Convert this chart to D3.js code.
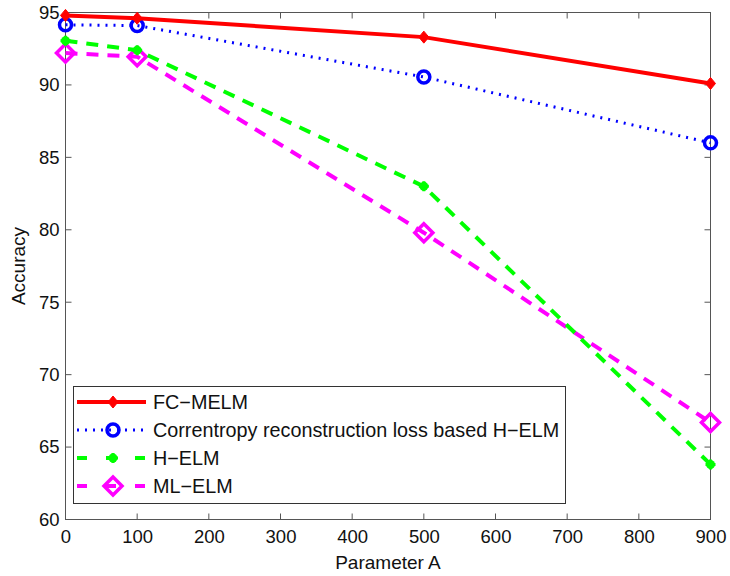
<!DOCTYPE html>
<html><head><meta charset="utf-8">
<script src="https://cdn.jsdelivr.net/npm/d3@7"></script>
<style>body{margin:0;background:#fff}svg{display:block}text{font-family:"Liberation Sans",Arial,sans-serif}</style>
</head><body><svg id="c" width="730" height="576"></svg>
<script>
const xValues = [0, 100, 500, 900];
const seriesNames = ["FC\u2212MELM", "Correntropy reconstruction loss based H\u2212ELM", "H\u2212ELM", "ML\u2212ELM"];
const fcmelm = [94.8, 94.6, 93.3, 90.1];
const correntropy = [94.15, 94.1, 90.55, 86.0];
const helm = [93.05, 92.4, 83.0, 63.8];
const mlelm = [92.2, 91.95, 79.8, 66.7];
const xTicks = [0,100,200,300,400,500,600,700,800,900];
const yTicks = [60,65,70,75,80,85,90,95];

const svg = d3.select("#c");
const L=65.5, R=710.5, T=12.5, B=519.5;
const x = d3.scaleLinear().domain([0,900]).range([L,R]);
const y = d3.scaleLinear().domain([60,95]).range([B,T]);

const styles = [
  {data: fcmelm, color:"#ff0000", dash:null, width:4, marker:"fcdiamond"},
  {data: correntropy, color:"#0000ff", dash:"2,6", width:3, marker:"circle"},
  {data: helm, color:"#00ff00", dash:"12,9", width:4, marker:"star"},
  {data: mlelm, color:"#ff00ff", dash:"12,9", width:4, marker:"diamond"}
];

svg.append("rect").attr("x",L).attr("y",T).attr("width",R-L).attr("height",B-T).attr("fill","none").attr("stroke","#555").attr("stroke-width",1);

const xAxis = d3.axisBottom(x).tickValues(xTicks).tickSize(0).tickPadding(10);
const gx = svg.append("g").attr("transform",`translate(0,${B})`).call(xAxis);
gx.select(".domain").remove();
gx.selectAll("text").attr("font-size",18.5).attr("fill","#111").attr("font-family","Liberation Sans, Arial, sans-serif").attr("dy","0.71em");
const yAxis = d3.axisLeft(y).tickValues(yTicks).tickSize(0).tickPadding(6);
const gy = svg.append("g").attr("transform",`translate(${L},0)`).call(yAxis);
gy.select(".domain").remove();
gy.selectAll("text").attr("font-size",18.5).attr("fill","#111").attr("font-family","Liberation Sans, Arial, sans-serif");

xTicks.forEach(t=>{
  svg.append("line").attr("x1",x(t)).attr("x2",x(t)).attr("y1",B).attr("y2",B-6).attr("stroke","#555");
  svg.append("line").attr("x1",x(t)).attr("x2",x(t)).attr("y1",T).attr("y2",T+6).attr("stroke","#555");
});
yTicks.forEach(t=>{
  svg.append("line").attr("x1",L).attr("x2",L+6).attr("y1",y(t)).attr("y2",y(t)).attr("stroke","#555");
  svg.append("line").attr("x1",R).attr("x2",R-6).attr("y1",y(t)).attr("y2",y(t)).attr("stroke","#555");
});

svg.append("text").attr("x",(L+R)/2).attr("y",569).attr("text-anchor","middle").attr("font-size",19).attr("fill","#111").text("Parameter A");
svg.append("text").attr("transform",`translate(25,${(T+B)/2}) rotate(-90)`).attr("text-anchor","middle").attr("font-size",19).attr("fill","#111").text("Accuracy");

function drawMarker(g, type, cx, cy, color){
  if(type==="fcdiamond"){
    g.append("path").attr("d",`M${cx},${cy-6}L${cx+5},${cy}L${cx},${cy+6}L${cx-5},${cy}Z`).attr("fill",color).attr("stroke",color).attr("stroke-width",1);
  } else if(type==="circle"){
    g.append("circle").attr("cx",cx).attr("cy",cy).attr("r",6).attr("fill","none").attr("stroke",color).attr("stroke-width",3.5);
  } else if(type==="star"){
    g.append("circle").attr("cx",cx).attr("cy",cy).attr("r",4.5).attr("fill",color);
    g.append("path").attr("d",`M${cx-5},${cy}H${cx+5}M${cx},${cy-5}V${cy+5}`).attr("stroke",color).attr("stroke-width",3);
  } else if(type==="diamond"){
    g.append("path").attr("d",`M${cx},${cy-9}L${cx+9},${cy}L${cx},${cy+9}L${cx-9},${cy}Z`).attr("fill","none").attr("stroke",color).attr("stroke-width",3.5);
  }
}

const line = d3.line().x((d,i)=>x(xValues[i])).y(d=>y(d));
const plot = svg.append("g");
styles.slice().reverse().forEach(s=>{
  const p = plot.append("path").datum(s.data).attr("d",line).attr("fill","none").attr("stroke",s.color).attr("stroke-width",s.width);
  if(s.dash) p.attr("stroke-dasharray",s.dash);
  s.data.forEach((v,i)=>drawMarker(plot,s.marker,x(xValues[i]),y(v),s.color));
});

const lg = svg.append("g");
lg.append("rect").attr("x",73.5).attr("y",386.5).attr("width",492).attr("height",117).attr("fill","#fff").attr("stroke","#333").attr("stroke-width",1);
styles.forEach((s,i)=>{
  const cy = 402 + i*28;
  const p = lg.append("line").attr("x1",77).attr("x2",146).attr("y1",cy).attr("y2",cy).attr("stroke",s.color).attr("stroke-width",s.width);
  if(s.dash) p.attr("stroke-dasharray", s.marker==="circle" ? "2,6" : "10,19");
  drawMarker(lg,s.marker,113,cy,s.color);
  lg.append("text").attr("x",153).attr("y",cy).attr("dy","0.36em").attr("font-size",19.8).attr("fill","#111").text(seriesNames[i]);
});
</script></body></html>
